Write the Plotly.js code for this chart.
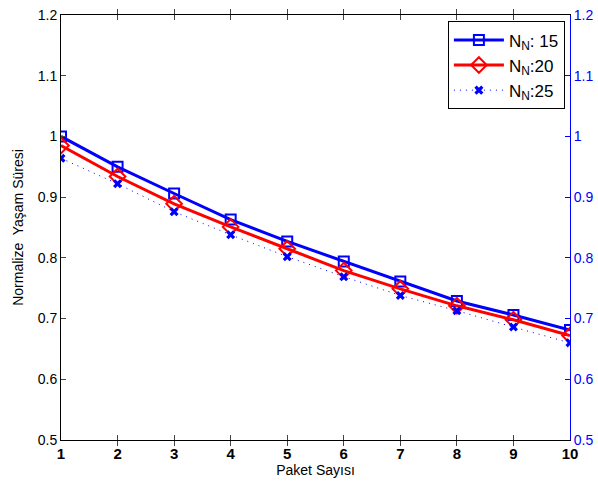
<!DOCTYPE html>
<html>
<head>
<meta charset="utf-8">
<script src="https://cdn.plot.ly/plotly-3.0.1.min.js"></script>
<style>html,body{margin:0;padding:0;background:#fff;}#chart{width:598px;height:493px;}</style>
</head>
<body>
<div id="chart"></div>
<script>
// Packet count on the x axis
const paketSayisi = [1, 2, 3, 4, 5, 6, 7, 8, 9, 10];
// Normalised lifetime for each node count
const nn15 = [1.000, 0.950, 0.906, 0.863, 0.827, 0.794, 0.761, 0.729, 0.706, 0.681];
const nn20 = [0.985, 0.934, 0.889, 0.851, 0.815, 0.779, 0.749, 0.721, 0.698, 0.672];
const nn25 = [0.964, 0.922, 0.876, 0.838, 0.802, 0.769, 0.738, 0.713, 0.686, 0.660];
const seriesNames = ['N<sub>N</sub>: 15', 'N<sub>N</sub>:20', 'N<sub>N</sub>:25'];
const yTicks = [0.5, 0.6, 0.7, 0.8, 0.9, 1, 1.1, 1.2];
const yTickText = ['0.5', '0.6', '0.7', '0.8', '0.9', '1', '1.1', '1.2'];

const font = {family: 'Liberation Sans, Arial, sans-serif', size: 14, color: '#000'};

const traces = [
  {x: paketSayisi, y: nn15, name: seriesNames[0], mode: 'lines+markers',
   line: {color: '#0000ff', width: 3},
   marker: {symbol: 'square-open', size: 10, color: '#0000ff', line: {width: 2, color: '#0000ff'}}},
  {x: paketSayisi, y: nn20, name: seriesNames[1], mode: 'lines+markers',
   line: {color: '#ff0000', width: 3},
   marker: {symbol: 'diamond-open', size: 12, color: '#ff0000', line: {width: 2, color: '#ff0000'}}},
  {x: paketSayisi, y: nn25, name: seriesNames[2], mode: 'lines+markers',
   line: {color: '#0000ff', width: 1, dash: '1px,5px'},
   marker: {symbol: 'x', size: 8, color: '#0000ff', line: {width: 0}}},
  // carries the right-hand axis
  {x: [paketSayisi[0]], y: [yTicks[0]], yaxis: 'y2', mode: 'markers',
   marker: {opacity: 0}, showlegend: false, hoverinfo: 'skip'}
];

const layout = {
  width: 598, height: 493,
  margin: {l: 61, r: 28, t: 15, b: 53},
  paper_bgcolor: '#fff', plot_bgcolor: '#fff',
  font: font,
  showlegend: true,
  legend: {x: 0.99, xanchor: 'right', y: 0.985, yanchor: 'top',
           bgcolor: '#fff', bordercolor: '#000', borderwidth: 1,
           font: {family: font.family, size: 17, color: '#000'},
           itemwidth: 50, tracegroupgap: 0},
  xaxis: {range: [1, 10], tickvals: paketSayisi, ticks: 'inside', ticklen: 5,
          showline: true, linecolor: '#000', linewidth: 1, mirror: 'allticks',
          showgrid: false, zeroline: false,
          tickfont: {family: font.family, size: 15, color: '#000', weight: 'bold'},
          title: {text: 'Paket Sayısı', font: {family: font.family, size: 14}, standoff: 4}},
  yaxis: {range: [0.5, 1.2], tickvals: yTicks, ticktext: yTickText, ticks: 'inside', ticklen: 5,
          showline: true, linecolor: '#000', linewidth: 1,
          showgrid: false, zeroline: false,
          tickfont: {family: font.family, size: 14, color: '#000'},
          title: {text: 'Normalize&nbsp; Yaşam Süresi', font: {family: font.family, size: 14}, standoff: 10}},
  yaxis2: {range: [0.5, 1.2], tickvals: yTicks, ticktext: yTickText, overlaying: 'y', side: 'right',
           ticks: 'inside', ticklen: 5, tickcolor: '#0000ff',
           showline: true, linecolor: '#0000ff', linewidth: 1,
           showgrid: false, zeroline: false,
           tickfont: {family: font.family, size: 14, color: '#0000ff'}}
};

Plotly.newPlot('chart', traces, layout, {displayModeBar: false, staticPlot: true});
</script>
</body>
</html>
